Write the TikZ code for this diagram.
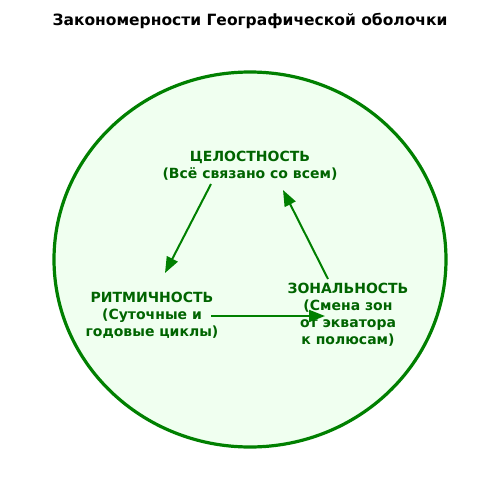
\documentclass[tikz,border=0pt]{standalone}
\usepackage{fontspec}
\setmainfont{DejaVu Sans}
\usetikzlibrary{arrows.meta}
\definecolor{lgreen}{HTML}{F0FFF0}
\definecolor{mgreen}{HTML}{008000}
\definecolor{dgreen}{HTML}{006400}
\tikzset{
  lbl/.style={text=dgreen, font=\fontsize{14}{17}\selectfont\bfseries, align=center, inner sep=0pt},
  conn/.style={draw=mgreen, line width=2pt, -{Triangle[length=16pt,width=12pt]}}
}
\begin{document}
\begin{tikzpicture}[x=1pt,y=-1pt]
\useasboundingbox (0,0) rectangle (500,500);
\fill[white] (0,0) rectangle (500,500);
\node[font=\fontsize{15.5}{18}\selectfont\bfseries, inner sep=0pt] (title) at (250,21) {Закономерности Географической оболочки};
\draw[draw=mgreen, fill=lgreen, line width=3.2pt] (250,259.5) ellipse [x radius=196, y radius=187.5];
\node[lbl] (cel) at (250,166) {ЦЕЛОСТНОСТЬ\\(Всё связано со всем)};
\node[lbl] (rit) at (152,315) {РИТМИЧНОСТЬ\\(Суточные и\\годовые циклы)};
\node[lbl] (zon) at (348,315) {ЗОНАЛЬНОСТЬ\\(Смена зон\\от экватора\\к полюсам)};
\coordinate (a1s) at (211,184);
\coordinate (a1e) at (165,273);
\coordinate (a2s) at (211,316);
\coordinate (a2e) at (325,316);
\coordinate (a3s) at (328,279);
\coordinate (a3e) at (283,190);
\draw[conn] (a1s) -- (a1e);
\draw[conn] (a2s) -- (a2e);
\draw[conn] (a3s) -- (a3e);
\end{tikzpicture}
\end{document}
